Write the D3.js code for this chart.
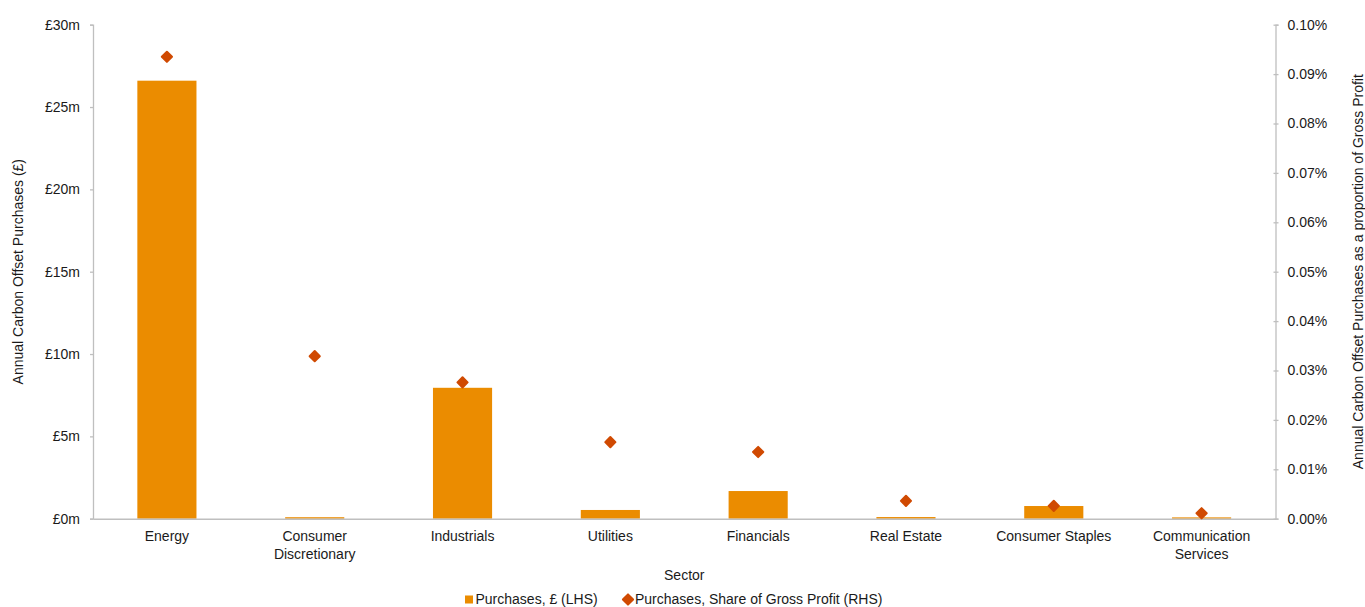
<!DOCTYPE html>
<html>
<head>
<meta charset="utf-8">
<script src="https://cdn.jsdelivr.net/npm/d3@7"></script>
<style>
  html, body { margin: 0; padding: 0; background: #fff; overflow: hidden; }
  svg { display: block; font-family: "Liberation Sans", Arial, sans-serif; }
</style>
</head>
<body>
<svg id="chart" width="1365" height="607"></svg>
<script>
// Sectors and their carbon offset purchases
const sectors = ["Energy", "Consumer Discretionary", "Industrials", "Utilities",
                 "Financials", "Real Estate", "Consumer Staples", "Communication Services"];
// Annual purchases, £ millions (left axis)
const purchasesGBPm = [26.6, 0.09, 7.95, 0.53, 1.68, 0.1, 0.77, 0.08];
// Purchases as % of gross profit (right axis)
const shareOfGrossProfitPct = [0.0935, 0.0329, 0.0276, 0.0155, 0.0135, 0.0036, 0.0026, 0.0011];

const leftTicks = [0, 5, 10, 15, 20, 25, 30];
const rightTicks = [0, 0.01, 0.02, 0.03, 0.04, 0.05, 0.06, 0.07, 0.08, 0.09, 0.10];

const barColor = "#EB8C00";
const markerColor = "#D04A02";
const axisColor = "#BFBFBF";
const textColor = "#1a1a1a";

const svg = d3.select("#chart");
const plot = { left: 93, right: 1275.5, top: 24.7, bottom: 518.7 };

const x = d3.scaleBand()
  .domain(sectors)
  .range([plot.left, plot.right])
  .paddingInner(0.6)
  .paddingOuter(0.3);

const yL = d3.scaleLinear().domain([0, 30]).range([plot.bottom, plot.top]);
const yR = d3.scaleLinear().domain([0, 0.10]).range([plot.bottom, plot.top]);

// Left axis
const gL = svg.append("g")
  .attr("transform", `translate(${plot.left},0)`)
  .call(d3.axisLeft(yL).tickValues(leftTicks).tickSize(3).tickPadding(10)
    .tickFormat(d => `£${d}m`));

// Right axis
const gR = svg.append("g")
  .attr("transform", `translate(${plot.right},0)`)
  .call(d3.axisRight(yR).tickValues(rightTicks).tickSize(3).tickPadding(9)
    .tickFormat(d => d3.format(".2f")(d) + "%"));

[gL, gR].forEach(g => {
  g.select(".domain").attr("stroke", axisColor).attr("stroke-width", 1.3);
  g.selectAll(".tick line").attr("stroke", axisColor).attr("stroke-width", 1.3);
  g.selectAll(".tick text").attr("fill", textColor).attr("font-size", 14)
    .attr("font-family", "Liberation Sans, Arial, sans-serif");
});
gR.selectAll(".tick line").attr("x1", -2);

// Bars
svg.append("g").selectAll("rect")
  .data(sectors)
  .join("rect")
  .attr("x", d => x(d))
  .attr("width", x.bandwidth())
  .attr("y", (d, i) => yL(purchasesGBPm[i]))
  .attr("height", (d, i) => yL(0) - yL(purchasesGBPm[i]))
  .attr("fill", barColor);

// Category axis (baseline + labels)
const gX = svg.append("g")
  .attr("transform", `translate(0,${plot.bottom})`)
  .call(d3.axisBottom(x).tickSize(0).tickPadding(0).tickFormat(""));
gX.select(".domain").attr("stroke", axisColor).attr("stroke-width", 1.5);

const labelLines = {
  "Consumer Discretionary": ["Consumer", "Discretionary"],
  "Communication Services": ["Communication", "Services"]
};
gX.selectAll(".tick").each(function(d) {
  const lines = labelLines[d] || [d];
  const t = d3.select(this).append("text")
    .attr("fill", textColor)
    .attr("font-size", 14)
    .attr("text-anchor", "middle");
  lines.forEach((ln, k) => {
    t.append("tspan").attr("x", 0).attr("y", 22.5 + k * 18).text(ln);
  });
});

// Share markers (diamonds)
const diamond = d3.symbol().type(d3.symbolSquare).size(52);
svg.append("g").selectAll("path")
  .data(sectors)
  .join("path")
  .attr("d", diamond)
  .attr("transform", (d, i) =>
    `translate(${x(d) + x.bandwidth() / 2},${yR(shareOfGrossProfitPct[i])}) rotate(45)`)
  .attr("fill", markerColor)
  .attr("stroke", markerColor)
  .attr("stroke-width", 2)
  .attr("stroke-linejoin", "round");

// Axis titles
svg.append("text")
  .attr("transform", `translate(23,${(plot.top + plot.bottom) / 2}) rotate(-90)`)
  .attr("text-anchor", "middle")
  .attr("fill", textColor)
  .attr("font-size", 14)
  .text("Annual Carbon Offset Purchases (£)");

svg.append("text")
  .attr("transform", `translate(1363,${(plot.top + plot.bottom) / 2}) rotate(-90)`)
  .attr("text-anchor", "middle")
  .attr("fill", textColor)
  .attr("font-size", 14)
  .text("Annual Carbon Offset Purchases as a proportion of Gross Profit");

svg.append("text")
  .attr("x", (plot.left + plot.right) / 2)
  .attr("y", 580)
  .attr("text-anchor", "middle")
  .attr("fill", textColor)
  .attr("font-size", 14)
  .text("Sector");

// Legend
const legend = svg.append("g");
legend.append("rect")
  .attr("x", 465).attr("y", 595.5).attr("width", 8).attr("height", 8)
  .attr("fill", barColor);
legend.append("text")
  .attr("x", 475.5).attr("y", 603.5)
  .attr("fill", textColor).attr("font-size", 14)
  .text("Purchases, £ (LHS)");
legend.append("path")
  .attr("d", diamond)
  .attr("transform", "translate(628,599.5) rotate(45)")
  .attr("fill", markerColor)
  .attr("stroke", markerColor)
  .attr("stroke-width", 2)
  .attr("stroke-linejoin", "round");
legend.append("text")
  .attr("x", 635).attr("y", 603.5)
  .attr("fill", textColor).attr("font-size", 14)
  .text("Purchases, Share of Gross Profit (RHS)");
</script>
</body>
</html>
